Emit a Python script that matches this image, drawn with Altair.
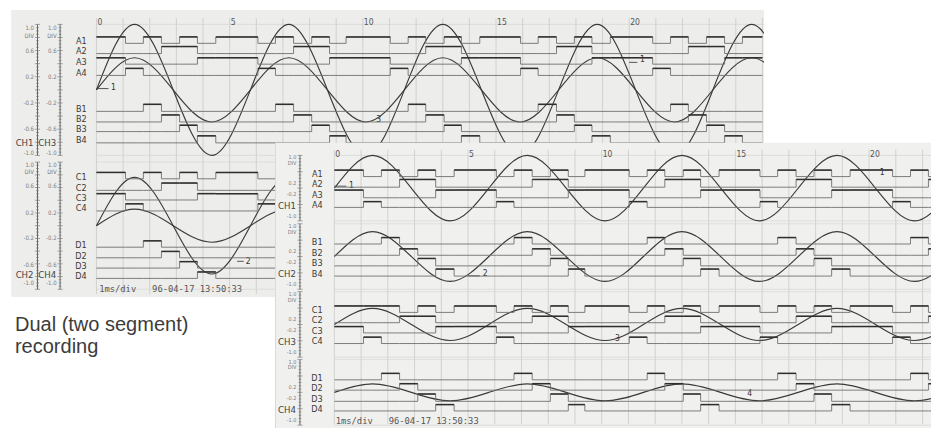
import altair as alt
import pandas as pd

# ---------------- values ----------------
# logic traces: start time (in divisions) of each state of the recorded pattern
seg_start = [0.00, 1.09, 1.76, 2.44, 3.12, 3.79,
             4.48, 6.06, 6.72, 7.40, 8.08, 8.75,
             9.37, 11.03, 11.70, 12.36, 13.05, 13.70,
             14.39, 15.92, 16.58, 17.27, 17.94, 18.60,
             19.29, 20.88, 21.55, 22.22, 22.90, 23.58,
             24.25]
T_END = 25.0

A1 = [1, 0, 1, 0, 1, 0, 1, 0, 1, 0, 1, 0, 1, 0, 1, 0, 1, 0, 1, 0, 1, 0, 1, 0, 1, 0, 1, 0, 1, 0, 1]
A2 = [0, 0, 0, 1, 1, 0, 0, 0, 0, 1, 1, 0, 0, 0, 0, 1, 1, 0, 0, 0, 0, 1, 1, 0, 0, 0, 0, 1, 1, 0, 0]
A3 = [1, 0, 0, 0, 0, 1, 1, 0, 0, 0, 0, 1, 1, 0, 0, 0, 0, 1, 1, 0, 0, 0, 0, 1, 1, 0, 0, 0, 0, 1, 1]
A4 = [0, 1, 0, 0, 0, 0, 0, 1, 0, 0, 0, 0, 0, 1, 0, 0, 0, 0, 0, 1, 0, 0, 0, 0, 0, 1, 0, 0, 0, 0, 0]
B1 = [0, 0, 1, 0, 0, 0, 0, 0, 1, 0, 0, 0, 0, 0, 1, 0, 0, 0, 0, 0, 1, 0, 0, 0, 0, 0, 1, 0, 0, 0, 0]
B2 = [0, 0, 0, 1, 0, 0, 0, 0, 0, 1, 0, 0, 0, 0, 0, 1, 0, 0, 0, 0, 0, 1, 0, 0, 0, 0, 0, 1, 0, 0, 0]
B3 = [0, 0, 0, 0, 1, 0, 0, 0, 0, 0, 1, 0, 0, 0, 0, 0, 1, 0, 0, 0, 0, 0, 1, 0, 0, 0, 0, 0, 1, 0, 0]
B4 = [0, 0, 0, 0, 0, 1, 0, 0, 0, 0, 0, 1, 0, 0, 0, 0, 0, 1, 0, 0, 0, 0, 0, 1, 0, 0, 0, 0, 0, 1, 0]
C1_front = [1, 1, 1, 0, 1, 0, 1, 0, 1, 0, 1, 0, 1, 0, 1, 0, 1, 0, 1, 0, 1, 0, 1, 0, 1, 0, 1, 0, 1, 0, 1]

# analog traces: zero crossings and extremes (time in divisions, value in full scale)
wave_t = [0.00, 1.43, 2.88, 4.33, 5.78, 7.22, 8.67, 10.12, 11.56, 13.00,
          14.45, 15.90, 17.35, 18.80, 20.24, 21.70, 23.14, 24.60, 26.04]
CH1 = [0, 1.0, 0, -1.0, 0, 1.0, 0, -1.0, 0, 1.0, 0, -1.0, 0, 1.0, 0, -1.0, 0, 1.0, 0]
CH2 = [0, 0.76, 0, -0.76, 0, 0.76, 0, -0.76, 0, 0.76, 0, -0.76, 0, 0.76, 0, -0.76, 0, 0.76, 0]
CH3 = [0, 0.49, 0, -0.49, 0, 0.49, 0, -0.49, 0, 0.49, 0, -0.49, 0, 0.49, 0, -0.49, 0, 0.49, 0]
CH4 = [0, 0.26, 0, -0.26, 0, 0.26, 0, -0.26, 0, 0.26, 0, -0.26, 0, 0.26, 0, -0.26, 0, 0.26, 0]

back_time_t = [0, 5, 10, 15, 20, 25]
back_time_labels = ["0", "5", "10", "15", "20", "25"]
front_time_t = [0, 5, 10, 15, 20]
front_time_labels = ["0", "5", "10", "15", "20"]
grid_t = list(range(0, 26))

back_lab_text = ["1.0", "DIV", "0.6", "0.2", "-0.2", "-0.6", "-1.0"]
back_top_lab_v = [0.95, 0.82, 0.6, 0.2, -0.2, -0.6, -0.97]
back_bot_lab_v = [0.95, 0.85, 0.62, 0.2, -0.2, -0.62, -0.9]
front_lab_text = ["1.0", "DIV", "0.2", "-0.2", "-1.0"]
front_lab_v = [0.94, 0.76, 0.17, -0.17, -0.84]
stamp = "1ms/div\u00a0\u00a0\u00a096-04-17\u00a013:50:33"
caption = ["Dual (two segment)", "recording"]

# ---------------- layout ----------------
W, H = 923, 420
SX, SY = W / 939, H / 436
NARROW = "Liberation Sans Narrow, DejaVu Sans Condensed, Liberation Sans, sans-serif"
MONO = "DejaVu Sans Mono, Liberation Mono, monospace"
INK = "#3a3a3a"
GRID = "#c9c9c9"


def X(p):
    return p * SX


def Y(p):
    return p * SY


def lin(domain, rng):
    return alt.Scale(domain=domain, range=rng, nice=False, zero=False)


def t_scale(x0, ppd):
    return lin([0, 25], [X(x0), X(x0 + 25 * ppd)])


def v_scale(center, ppu):
    return lin([-1, 1], [Y(center + ppu), Y(center - ppu)])


def l_scale(low, high):
    return lin([0, 1], [Y(low), Y(high)])


def p_scale(top, bottom):
    return lin([0, 1], [Y(top), Y(bottom)])


def xe(sc, f="t"):
    return alt.X(f"{f}:Q", scale=sc, axis=None)


def ye(sc, f="v"):
    return alt.Y(f"{f}:Q", scale=sc, axis=None)


def text_chart(xs, ys, ts, vs, ss, **kw):
    df = pd.DataFrame({"t": ts, "v": vs, "s": ss})
    return alt.Chart(df).mark_text(**kw).encode(x=xe(xs), y=ye(ys), text="s:N")


def wave_chart(xs, ys, vals):
    df = pd.DataFrame({"t": wave_t, "v": vals})
    return alt.Chart(df).mark_line(interpolate="natural", color=INK, strokeWidth=1.15).encode(
        x=xe(xs), y=ye(ys))


def hgrid_chart(xs, ys):
    df = pd.DataFrame({"t": [0, 0], "t2": [T_END, T_END], "v": [1.0, -1.0]})
    return alt.Chart(df).mark_rule(color="#d6d6d6", strokeWidth=0.7).encode(
        x=xe(xs), x2="t2:Q", y=ye(ys))


def ruler_charts(xs, ys, tr, ppd, step, major_every, labels, label_v, ch_name, ch_v, lab_size):
    n = int(round(2 / step))
    rows = []
    for i in range(n + 1):
        v = round(-1 + i * step, 4)
        L = (2.6 if i % major_every == 0 else 1.4) / ppd
        rows.append({"t": tr - L, "t2": tr + L, "v": v})
    ticks = alt.Chart(pd.DataFrame(rows)).mark_rule(color="#6c6c6c", strokeWidth=0.6).encode(
        x=xe(xs), x2="t2:Q", y=ye(ys))
    axis = alt.Chart(pd.DataFrame({"t": [tr], "v": [-1.0], "v2": [1.0]})).mark_rule(
        color="#555", strokeWidth=0.9).encode(x=xe(xs), y=ye(ys), y2="v2:Q")
    labs = text_chart(xs, ys, [tr] * len(labels), label_v, labels, align="right", baseline="middle",
                      dx=-3.5, font=NARROW, fontSize=lab_size, color="#7c7c7c")
    ch = text_chart(xs, ys, [tr], [ch_v], [ch_name], align="right", baseline="middle", dx=-4,
                    font=NARROW, fontSize=9.5, color="#444")
    return [axis, ticks, labs, ch]


def marker_charts(xs, ys, t_txt, v_txt, s, line=None):
    out = [text_chart(xs, ys, [t_txt], [v_txt], [s], align="left", baseline="middle",
                      font=NARROW, fontSize=8.5, color="#333")]
    if line is not None:
        t0, t1, vl = line
        df = pd.DataFrame({"t": [t0], "t2": [t1], "v": [vl]})
        out.append(alt.Chart(df).mark_rule(color="#444", strokeWidth=0.9).encode(
            x=xe(xs), x2="t2:Q", y=ye(ys)))
    return out


def logic_chart(levels, name, xs, low, high, label_t):
    ys = l_scale(low, high)
    pts = pd.DataFrame({"t": seg_start + [T_END], "v": levels + [levels[-1]]})
    segs = pd.DataFrame({"t": seg_start, "t2": seg_start[1:] + [T_END], "v": levels})
    segs = segs[segs["v"] == 1]
    base = alt.Chart(pts).mark_line(interpolate="step-after", color="#707070", strokeWidth=0.9).encode(
        x=xe(xs), y=ye(ys))
    bold = alt.Chart(segs).mark_rule(color="#2e2e2e", strokeWidth=1.5).encode(
        x=xe(xs), x2="t2:Q", y=ye(ys))
    lab = text_chart(xs, ys, [label_t], [0.35], [name], align="right", baseline="middle",
                     font=NARROW, fontSize=9, color="#3a3a3a")
    return alt.layer(base, bold, lab)


layers = []

# ================= back chart (dual segment) =================
bx = t_scale(90, 27.1)
b_paper = p_scale(0, 300)
b_top = v_scale(85, 68)
b_bot = v_scale(226, 66)

paper_df = pd.DataFrame({"t": [-3.2], "t2": [25.06], "v": [0.007], "v2": [1.0]})
layers.append(alt.Chart(paper_df).mark_rect(color="#ededeb").encode(
    x=xe(bx), x2="t2:Q", y=ye(b_paper), y2="v2:Q"))
gdf = pd.DataFrame({"t": grid_t, "v": [0.035] * len(grid_t), "v2": [0.99] * len(grid_t)})
layers.append(alt.Chart(gdf).mark_rule(color=GRID, strokeWidth=0.8).encode(
    x=xe(bx), y=ye(b_paper), y2="v2:Q"))

tr1, tr3 = (30 - 90) / 27.1, (53 - 90) / 27.1
top_parts = [hgrid_chart(bx, b_top), wave_chart(bx, b_top, CH1), wave_chart(bx, b_top, CH3)]
top_parts += ruler_charts(bx, b_top, tr1, 27.1, 0.05, 4, back_lab_text, back_top_lab_v, "CH1", -0.81, 6)
top_parts += ruler_charts(bx, b_top, tr3, 27.1, 0.05, 4, back_lab_text, back_top_lab_v, "CH3", -0.81, 6)
top_parts.append(text_chart(bx, b_top, back_time_t, [1.04] * len(back_time_t), back_time_labels,
                            align="left", baseline="middle", dx=1, font=NARROW, fontSize=8.5,
                            color="#555"))
top_parts += marker_charts(bx, b_top, 0.55, 0.04, "1", (0.0, 0.45, 0.02))
top_parts += marker_charts(bx, b_top, 20.4, 0.47, "1", (20.0, 20.3, 0.42))
top_parts += marker_charts(bx, b_top, 10.5, -0.44, "3")
layers.append(alt.layer(*top_parts))

bot_parts = [hgrid_chart(bx, b_bot), wave_chart(bx, b_bot, CH2), wave_chart(bx, b_bot, CH4)]
bot_parts += ruler_charts(bx, b_bot, tr1, 27.1, 0.05, 4, back_lab_text, back_bot_lab_v, "CH2", -0.77, 6)
bot_parts += ruler_charts(bx, b_bot, tr3, 27.1, 0.05, 4, back_lab_text, back_bot_lab_v, "CH4", -0.77, 6)
bot_parts += marker_charts(bx, b_bot, 5.6, -0.55, "2", (5.28, 5.53, -0.56))
bot_parts.append(text_chart(bx, b_bot, [0.1], [-0.995], [stamp], align="left", baseline="middle",
                            font=MONO, fontSize=8.8, color="#555"))
layers.append(alt.layer(*bot_parts))

back_rows = [
    (A1, "A1", 36.7, 30.0), (A2, "A2", 47.3, 40.0), (A3, "A3", 58.3, 51.7), (A4, "A4", 70.0, 62.7),
    (B1, "B1", 107.3, 100.0), (B2, "B2", 118.3, 111.0), (B3, "B3", 128.3, 121.7), (B4, "B4", 140.0, 132.7),
    (A1, "C1", 177.3, 170.7), (A2, "C2", 189.3, 181.7), (A3, "C3", 199.3, 192.7), (A4, "C4", 210.7, 203.3),
    (B1, "D1", 248.3, 241.7), (B2, "D2", 259.3, 252.7), (B3, "D3", 270.0, 263.3), (B4, "D4", 280.7, 274.0),
]
for lv, nm, lo, hi in back_rows:
    layers.append(logic_chart(lv, nm, bx, lo, hi, -0.37))

# white page to the right of the back sheet
mask_df = pd.DataFrame({"t": [25.06], "t2": [40.0], "v": [-0.1], "v2": [0.5]})
layers.append(alt.Chart(mask_df).mark_rect(color="white").encode(
    x=xe(bx), x2="t2:Q", y=ye(b_paper), y2="v2:Q"))

# caption
layers.append(text_chart(bx, b_paper, [-3.06, -3.06], [1.117, 1.193], caption, align="left",
                         baseline="alphabetic", font="Liberation Sans, Arial, sans-serif",
                         fontSize=20, color="#3c3c3c"))

# ================= front chart (quad segment) =================
fx = t_scale(332, 27.2)
f_paper = p_scale(140, 436)
fpaper_df = pd.DataFrame({"t": [-2.2], "t2": [26.0], "v": [0.0], "v2": [1.05]})
layers.append(alt.Chart(fpaper_df).mark_rect(color="#f0f0ee").encode(
    x=xe(fx), x2="t2:Q", y=ye(f_paper), y2="v2:Q"))
edge_df = pd.DataFrame({"t": [-2.2], "v": [0.0], "v2": [1.05]})
layers.append(alt.Chart(edge_df).mark_rule(color="#dadada", strokeWidth=1).encode(
    x=xe(fx), y=ye(f_paper), y2="v2:Q"))
fgdf = pd.DataFrame({"t": grid_t, "v": [0.024] * len(grid_t), "v2": [0.986] * len(grid_t)})
layers.append(alt.Chart(fgdf).mark_rule(color=GRID, strokeWidth=0.8).encode(
    x=xe(fx), y=ye(f_paper), y2="v2:Q"))

ftr = (297 - 332) / 27.2
strips = [
    (187.0, CH1, "CH1"), (258.0, CH2, "CH2"), (328.5, CH3, "CH3"), (399.0, CH4, "CH4"),
]
strip_markers = [
    [(0.55, 0.09, "1", (0.0, 0.45, 0.06)), (20.4, 0.5, "1", None)],
    [(5.55, -0.5, "2", (5.0, 5.44, -0.59))],
    [(10.5, -0.41, "3", None)],
    [(15.44, -0.03, "4", None)],
]
for i, (cy, vals, nm) in enumerate(strips):
    ys = v_scale(cy, 34)
    parts = [hgrid_chart(fx, ys), wave_chart(fx, ys, vals)]
    parts += ruler_charts(fx, ys, ftr, 27.2, 0.1, 5, front_lab_text, front_lab_v, nm, -0.54, 5.5)
    for (tt, vv, ss, ln) in strip_markers[i]:
        parts += marker_charts(fx, ys, tt, vv, ss, ln)
    if i == 0:
        parts.append(text_chart(fx, ys, front_time_t, [1.03] * len(front_time_t), front_time_labels,
                                align="left", baseline="middle", dx=1, font=NARROW, fontSize=8.5,
                                color="#555"))
    if i == 3:
        parts.append(text_chart(fx, ys, [0.05], [-0.86], [stamp], align="left", baseline="middle",
                                font=MONO, fontSize=8.8, color="#555"))
    layers.append(alt.layer(*parts))

front_rows = [
    (A1, "A1", 175.0, 168.3), (A2, "A2", 186.0, 178.0), (A3, "A3", 197.0, 189.0), (A4, "A4", 207.0, 201.0),
    (B1, "B1", 245.0, 238.3), (B2, "B2", 256.7, 250.0), (B3, "B3", 267.7, 260.0), (B4, "B4", 278.3, 271.0),
    (C1_front, "C1", 316.0, 309.3), (A2, "C2", 326.7, 320.0), (A3, "C3", 337.3, 330.7), (A4, "C4", 348.3, 341.7),
    (B1, "D1", 386.0, 379.3), (B2, "D2", 396.7, 390.0), (B3, "D3", 408.3, 400.7), (B4, "D4", 418.3, 411.7),
]
for lv, nm, lo, hi in front_rows:
    layers.append(logic_chart(lv, nm, fx, lo, hi, -0.44))

chart = alt.layer(*layers).resolve_scale(x="independent", y="independent").properties(
    width=W, height=H, padding=0, autosize=alt.AutoSizeParams(type="none"), background="white"
).configure_view(stroke=None)

chart.save("out.html", embed_options={"renderer": "svg", "actions": False})
